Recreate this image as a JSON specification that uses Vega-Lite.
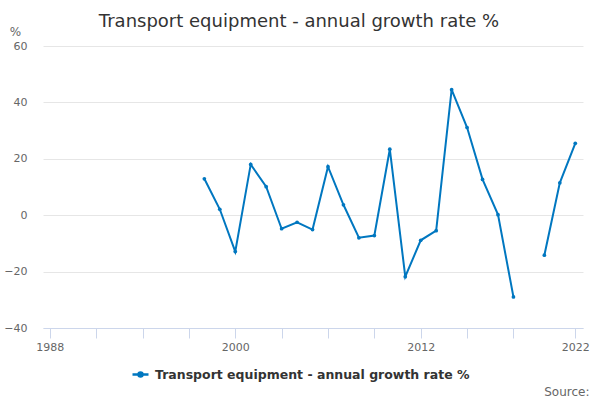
{
  "$schema": "https://vega.github.io/schema/vega-lite/v6.json",
  "width": 540,
  "height": 282,
  "autosize": {"type": "none"},
  "padding": {"left": 43, "top": 46, "right": 17, "bottom": 72},
  "background": "white",
  "config": {
    "font": "DejaVu Sans",
    "view": {"stroke": null}
  },
  "title": {
    "text": "Transport equipment - annual growth rate %",
    "fontSize": 18,
    "fontWeight": "normal",
    "color": "#333333",
    "anchor": "middle",
    "frame": "group",
    "dx": -14,
    "dy": 20,
    "offset": 14
  },
  "data": {
    "values": [
      {"year": 1998, "value": 12.9, "series": "Transport equipment - annual growth rate %"},
      {"year": 1999, "value": 2.1, "series": "Transport equipment - annual growth rate %"},
      {"year": 2000, "value": -12.9, "series": "Transport equipment - annual growth rate %"},
      {"year": 2001, "value": 18.0, "series": "Transport equipment - annual growth rate %"},
      {"year": 2002, "value": 10.1, "series": "Transport equipment - annual growth rate %"},
      {"year": 2003, "value": -4.8, "series": "Transport equipment - annual growth rate %"},
      {"year": 2004, "value": -2.5, "series": "Transport equipment - annual growth rate %"},
      {"year": 2005, "value": -5.1, "series": "Transport equipment - annual growth rate %"},
      {"year": 2006, "value": 17.2, "series": "Transport equipment - annual growth rate %"},
      {"year": 2007, "value": 3.7, "series": "Transport equipment - annual growth rate %"},
      {"year": 2008, "value": -8.0, "series": "Transport equipment - annual growth rate %"},
      {"year": 2009, "value": -7.2, "series": "Transport equipment - annual growth rate %"},
      {"year": 2010, "value": 23.4, "series": "Transport equipment - annual growth rate %"},
      {"year": 2011, "value": -21.8, "series": "Transport equipment - annual growth rate %"},
      {"year": 2012, "value": -8.9, "series": "Transport equipment - annual growth rate %"},
      {"year": 2013, "value": -5.5, "series": "Transport equipment - annual growth rate %"},
      {"year": 2014, "value": 44.5, "series": "Transport equipment - annual growth rate %"},
      {"year": 2015, "value": 31.1, "series": "Transport equipment - annual growth rate %"},
      {"year": 2016, "value": 12.7, "series": "Transport equipment - annual growth rate %"},
      {"year": 2017, "value": 0.2, "series": "Transport equipment - annual growth rate %"},
      {"year": 2018, "value": -29.0, "series": "Transport equipment - annual growth rate %"},
      {"year": 2019, "value": null, "series": "Transport equipment - annual growth rate %"},
      {"year": 2020, "value": -14.2, "series": "Transport equipment - annual growth rate %"},
      {"year": 2021, "value": 11.5, "series": "Transport equipment - annual growth rate %"},
      {"year": 2022, "value": 25.5, "series": "Transport equipment - annual growth rate %"}
    ]
  },
  "mark": {
    "type": "line",
    "strokeWidth": 2,
    "invalid": "break-paths-show-domains",
    "point": {"filled": true, "size": 14, "opacity": 1}
  },
  "encoding": {
    "x": {
      "field": "year",
      "type": "quantitative",
      "scale": {"domain": [1987.56, 2022.5], "nice": false, "zero": false},
      "axis": {
        "values": [1988, 1991, 1994, 1997, 2000, 2003, 2006, 2009, 2012, 2015, 2018, 2022],
        "format": "d",
        "labelExpr": "(datum.value == 1988 || datum.value == 2000 || datum.value == 2012 || datum.value == 2022) ? datum.label : ''",
        "labelFlush": false,
        "labelOverlap": false,
        "grid": false,
        "domainColor": "#ccd6eb",
        "tickColor": "#ccd6eb",
        "tickSize": 10,
        "labelPadding": 3,
        "labelFontSize": 11,
        "labelColor": "#666666",
        "title": "Source:",
        "titleFontSize": 12,
        "titleFontWeight": "normal",
        "titleColor": "#666666",
        "titleAlign": "right",
        "titleBaseline": "middle",
        "titleX": 546,
        "titleY": 63
      }
    },
    "y": {
      "field": "value",
      "type": "quantitative",
      "scale": {"domain": [-40, 60], "nice": false, "zero": false},
      "axis": {
        "values": [-40, -20, 0, 20, 40, 60],
        "domain": false,
        "ticks": false,
        "gridColor": "#e6e6e6",
        "labelPadding": 16,
        "labelFontSize": 11,
        "labelColor": "#666666",
        "title": "%",
        "titleAngle": 0,
        "titleAlign": "center",
        "titleBaseline": "middle",
        "titleFontSize": 12,
        "titleFontWeight": "normal",
        "titleColor": "#666666",
        "titleX": -28,
        "titleY": -15
      }
    },
    "color": {
      "field": "series",
      "type": "nominal",
      "scale": {"range": ["#0077c0"]},
      "legend": {
        "title": null,
        "orient": "none",
        "legendX": 88,
        "legendY": 319,
        "padding": 0,
        "symbolType": "M-1,0L1,0M-0.25,0A0.25,0.25 0 1,0 0.25,0A0.25,0.25 0 1,0 -0.25,0",
        "symbolSize": 256,
        "symbolStrokeWidth": 2.5,
        "symbolStrokeColor": "#0077c0",
        "symbolFillColor": "#0077c0",
        "symbolOpacity": 1,
        "labelFontSize": 12.5,
        "labelFontWeight": "bold",
        "labelColor": "#333333",
        "labelOffset": 5,
        "labelLimit": 500
      }
    }
  }
}
